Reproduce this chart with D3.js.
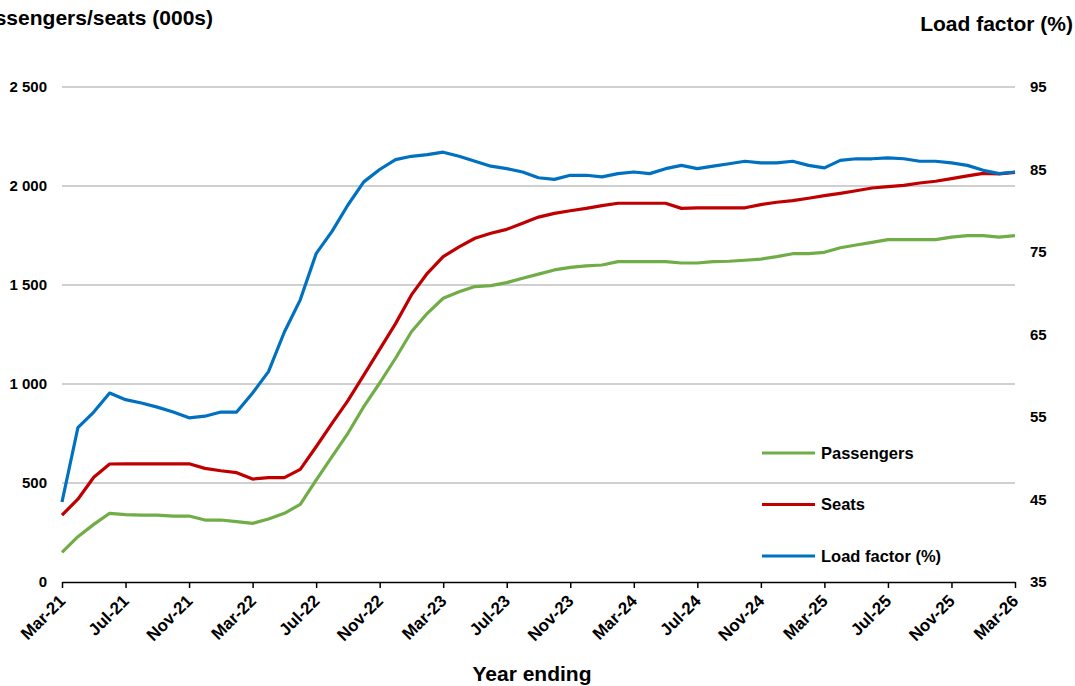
<!DOCTYPE html>
<html>
<head>
<meta charset="utf-8">
<script src="https://cdn.jsdelivr.net/npm/d3@7"></script>
<style>
  body { margin: 0; background: #fff; }
  text { font-family: "Liberation Sans", Arial, sans-serif; font-weight: bold; fill: #000; }
</style>
</head>
<body>
<div id="chart"></div>
<script>
// Chart size and plot box
const width = 1075;
const height = 686;
const margin = { top: 87, right: 60, bottom: 104, left: 62 };

// Months Mar-21 .. Mar-26 (year ending)
const fmt = d3.timeFormat("%b-%y");
const months = d3.timeMonth.range(new Date(2021, 2, 1), new Date(2026, 3, 1)).map(fmt);

// Tick labels on the x axis (every 4 months)
const xTicks = ["Mar-21", "Jul-21", "Nov-21", "Mar-22", "Jul-22", "Nov-22", "Mar-23", "Jul-23",
  "Nov-23", "Mar-24", "Jul-24", "Nov-24", "Mar-25", "Jul-25", "Nov-25", "Mar-26"];

// Passengers (000s)
const passengers = [150, 229, 291, 347, 340, 338, 338, 333, 333, 313, 313, 305, 296, 318, 347, 392,
  515, 633, 751, 886, 1005, 1130, 1264, 1357, 1433, 1466, 1492, 1497, 1512, 1534, 1555,
  1576, 1589, 1597, 1601, 1618, 1618, 1618, 1618, 1611, 1611, 1618, 1620, 1625, 1631, 1643,
  1658, 1658, 1665, 1688, 1702, 1715, 1729, 1729, 1729, 1729, 1742, 1749, 1749, 1742, 1749];

// Seats (000s)
const seats = [338, 418, 529, 596, 597, 597, 597, 597, 597, 574, 562, 552, 520, 527, 527, 569,
  683, 801, 916, 1045, 1175, 1305, 1450, 1559, 1643, 1693, 1736, 1761, 1781, 1812, 1843,
  1862, 1875, 1887, 1901, 1913, 1913, 1913, 1913, 1887, 1890, 1890, 1890, 1890, 1906, 1918,
  1926, 1938, 1951, 1963, 1976, 1990, 1997, 2003, 2015, 2024, 2037, 2051, 2064, 2061, 2069];

// Load factor (%)
const loadFactor = [44.7, 53.7, 55.6, 57.9, 57.1, 56.7, 56.2, 55.6, 54.9, 55.1, 55.6, 55.6, 57.9,
  60.5, 65.3, 69.2, 74.8, 77.5, 80.7, 83.5, 85.0, 86.2, 86.6, 86.8, 87.1, 86.6, 86.0, 85.4,
  85.1, 84.7, 84.0, 83.8, 84.3, 84.3, 84.1, 84.5, 84.7, 84.5, 85.1, 85.5, 85.1, 85.4, 85.7,
  86.0, 85.8, 85.8, 86.0, 85.5, 85.2, 86.1, 86.3, 86.3, 86.4, 86.3, 86.0, 86.0, 85.8, 85.5,
  84.9, 84.5, 84.7];

const leftTicks = [0, 500, 1000, 1500, 2000, 2500];
const rightTicks = [35, 45, 55, 65, 75, 85, 95];

const svg = d3.select("#chart").append("svg")
  .attr("width", width)
  .attr("height", height);

const x = d3.scalePoint()
  .domain(months)
  .range([margin.left, width - margin.right]);

const yL = d3.scaleLinear()
  .domain([0, 2500])
  .range([height - margin.bottom, margin.top]);

const yR = d3.scaleLinear()
  .domain([35, 95])
  .range([height - margin.bottom, margin.top]);

const thousands = d => d3.format(",")(d).replace(/,/g, " ");

// Gridlines (left axis)
svg.append("g")
  .selectAll("line")
  .data(leftTicks.filter(d => d > 0))
  .enter().append("line")
  .attr("x1", margin.left)
  .attr("x2", width - margin.right)
  .attr("y1", d => yL(d))
  .attr("y2", d => yL(d))
  .attr("stroke", "#c0c0c0")
  .attr("stroke-width", 1.6);

// Left axis labels
const gL = svg.append("g")
  .attr("transform", `translate(${margin.left},0)`)
  .call(d3.axisLeft(yL).tickValues(leftTicks).tickFormat(thousands).tickSize(0).tickPadding(15));
gL.select(".domain").remove();
gL.selectAll("text").style("font-size", "15px");

// Right axis labels
const gR = svg.append("g")
  .attr("transform", `translate(${width - margin.right},0)`)
  .call(d3.axisRight(yR).tickValues(rightTicks).tickSize(0).tickPadding(15));
gR.select(".domain").remove();
gR.selectAll("text").style("font-size", "15px");

// X axis
const gX = svg.append("g")
  .attr("transform", `translate(0,${height - margin.bottom})`)
  .call(d3.axisBottom(x).tickValues(xTicks).tickSize(6).tickSizeOuter(0));
gX.select(".domain").attr("stroke", "#000").attr("stroke-width", 1.5);
gX.selectAll(".tick line").attr("stroke", "#000").attr("stroke-width", 1.5);
gX.selectAll("text")
  .style("font-size", "17px")
  .style("text-anchor", "end")
  .attr("x", 0)
  .attr("y", 0)
  .attr("dy", 0)
  .attr("transform", "translate(4,20) rotate(-45)");

// Lines
const lineL = d3.line().x((d, i) => x(months[i])).y(d => yL(d));
const lineR = d3.line().x((d, i) => x(months[i])).y(d => yR(d));

const series = [
  { name: "Passengers", values: passengers, gen: lineL, color: "#70ad47" },
  { name: "Seats", values: seats, gen: lineL, color: "#c00000" },
  { name: "Load factor (%)", values: loadFactor, gen: lineR, color: "#0070c0" }
];

svg.append("g")
  .selectAll("path")
  .data(series)
  .enter().append("path")
  .attr("d", d => d.gen(d.values))
  .attr("fill", "none")
  .attr("stroke", d => d.color)
  .attr("stroke-width", 3.2)
  .attr("stroke-linejoin", "round");

// Legend
const legend = svg.append("g")
  .attr("transform", "translate(762,453)")
  .selectAll("g")
  .data(series)
  .enter().append("g")
  .attr("transform", (d, i) => `translate(0,${i * 51.5})`);

legend.append("line")
  .attr("x1", 0).attr("x2", 53)
  .attr("stroke", d => d.color)
  .attr("stroke-width", 3.2);

legend.append("text")
  .attr("x", 59)
  .attr("dy", "0.36em")
  .style("font-size", "16.5px")
  .text(d => d.name);

// Axis titles
svg.append("text")
  .attr("x", 213).attr("y", 25)
  .attr("text-anchor", "end")
  .style("font-size", "21px")
  .text("Passengers/seats (000s)");

svg.append("text")
  .attr("x", 1073).attr("y", 31)
  .attr("text-anchor", "end")
  .style("font-size", "21px")
  .text("Load factor (%)");

svg.append("text")
  .attr("x", 532).attr("y", 681)
  .attr("text-anchor", "middle")
  .style("font-size", "21px")
  .text("Year ending");
</script>
</body>
</html>
